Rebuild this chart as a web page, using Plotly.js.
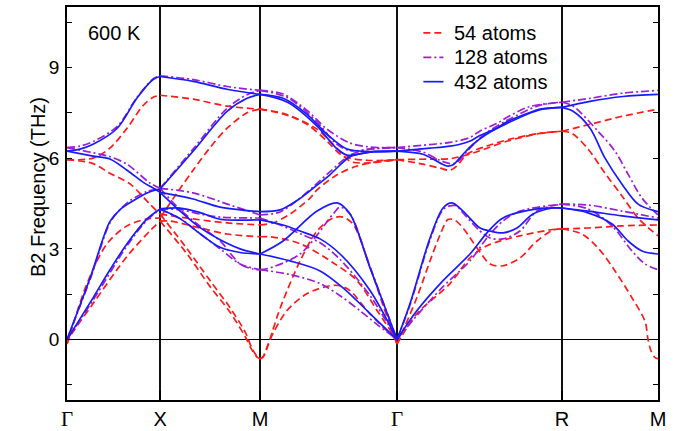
<!DOCTYPE html>
<html><head><meta charset="utf-8">
<script src="https://cdn.plot.ly/plotly-3.0.1.min.js"></script>
<style>html,body{margin:0;padding:0;background:#fff}#plot{width:685px;height:431px}</style>
</head><body><div id="plot"></div>
<script>
// High-symmetry points along the path (path coordinate) and their labels
const SYM_K = [0, 0.484, 1.004, 1.716, 2.574, 3.073];
const SYM_LABELS = ['Γ', 'X', 'M', 'Γ', 'R', 'M'];
const SERIES_NAMES = ['54 atoms', '128 atoms', '432 atoms'];
const Y_TICKS = [-1.5, 0, 1.5, 3, 4.5, 6, 7.5, 9, 10.5];
const Y_TICK_TEXT = ['', '0', '', '3', '', '6', '', '9', ''];

// Each band in a segment: [fraction along segment, frequency THz]
// ---- 54 atoms ----
const red_GX = [
  [[0,5.95],[0.28,6.0],[0.46,6.33],[0.645,6.99],[0.82,7.75],[0.93,8.02],[1,8.08]],
  [[0,5.95],[0.28,5.82],[0.46,5.5],[0.68,5.14],[0.89,4.48],[1,4.15]],
  [[0,-0.15],[0.03,0.15],[0.215,1.85],[0.43,3.17],[0.645,3.76],[0.86,3.99],[1,4.02]],
  [[0,-0.15],[0.03,0.08],[0.28,1.19],[0.645,2.75],[0.89,3.59],[1,3.92]]
];
const red_XM = [
  [[0,8.08],[0.33,7.95],[0.67,7.72],[1,7.62]],
  [[0,4.02],[0.17,4.85],[0.33,5.6],[0.5,6.35],[0.67,6.99],[0.87,7.5],[1,7.62]],
  [[0,4.15],[0.33,3.99],[0.67,3.86],[1,3.79]],
  [[0,3.92],[0.1,3.92],[0.4,3.69],[0.67,3.49],[1,3.4]],
  [[0,3.92],[0.27,2.83],[0.5,1.75],[0.7,0.9],[0.85,0.1],[0.92,-0.35],[0.97,-0.58],[1,-0.63]],
  [[0,4.15],[0.27,3.0],[0.5,1.95],[0.7,1.05],[0.85,0.25],[0.92,-0.3],[0.97,-0.56],[1,-0.63]]
];
const red_MG = [
  [[0,7.62],[0.168,7.48],[0.343,7.12],[0.489,6.56],[0.606,6.07],[0.781,5.93],[1,5.95]],
  [[0,7.62],[0.219,7.39],[0.416,6.96],[0.533,6.46],[0.657,5.9],[0.781,5.84],[1,5.95]],
  [[0,3.79],[0.095,3.86],[0.219,4.15],[0.365,4.68],[0.416,4.95],[0.562,5.45],[0.708,5.74],[0.85,5.88],[1,5.95]],
  [[0,3.4],[0.073,3.4],[0.292,3.17],[0.533,2.54],[0.708,1.95],[0.854,0.96],[0.975,0.12],[1,-0.15]],
  [[0,-0.63],[0.022,-0.58],[0.05,-0.3],[0.085,0.2],[0.124,0.75],[0.168,1.29],[0.292,2.6],[0.416,3.59],[0.533,4.02],[0.606,4.05],[0.679,3.82],[0.803,2.4],[0.9,1.1],[0.975,0.15],[1,-0.15]],
  [[0,-0.63],[0.022,-0.56],[0.055,-0.2],[0.1,0.25],[0.197,0.96],[0.343,1.52],[0.511,1.78],[0.584,1.78],[0.657,1.62],[0.781,0.96],[0.9,0.4],[0.975,0.08],[1,-0.15]]
];
const red_GR = [
  [[0,5.95],[0.2,5.97],[0.321,5.98],[0.461,6.17],[0.667,6.56],[0.867,6.82],[1,6.89]],
  [[0,5.95],[0.158,5.8],[0.261,5.67],[0.321,5.6],[0.364,5.75],[0.424,6.13],[0.545,6.4],[0.7,6.65],[0.867,6.82],[1,6.89]],
  [[0,-0.15],[0.025,0.15],[0.121,1.4],[0.2,2.6],[0.26,3.45],[0.309,3.97],[0.35,3.95],[0.4,3.69],[0.485,3.03],[0.564,2.5],[0.642,2.44],[0.745,2.7],[0.848,3.26],[0.945,3.62],[1,3.66]],
  [[0,-0.15],[0.025,0.08],[0.121,0.86],[0.321,1.85],[0.442,2.7],[0.545,3.1],[0.745,3.43],[0.945,3.64],[1,3.66]]
];
const red_RM = [
  [[0,6.89],[0.292,7.12],[0.635,7.39],[1,7.62]],
  [[0,6.89],[0.104,6.82],[0.271,6.3],[0.448,5.5],[0.625,4.75],[0.792,4.02],[1,3.43]],
  [[0,3.66],[0.271,3.69],[0.625,3.76],[1,3.79]],
  [[0,3.66],[0.208,3.49],[0.375,3.03],[0.552,2.27],[0.729,1.38],[0.865,0.6],[0.896,0.0],[0.93,-0.4],[0.97,-0.6],[1,-0.63]]
];
// ---- 128 atoms ----
const purple_GX = [
  [[0,6.35],[0.14,6.4],[0.28,6.55],[0.54,7.05],[0.75,8.0],[0.925,8.62],[1,8.72]],
  [[0,6.35],[0.28,6.18],[0.46,6.05],[0.645,5.8],[0.89,5.18],[1,5.0]],
  [[0,0],[0.25,2.0],[0.46,3.85],[0.57,4.3],[0.68,4.6],[0.86,4.9],[1,5.0]],
  [[0,0],[0.28,1.3],[0.645,3.1],[0.86,3.95],[1,4.3]]
];
const purple_XM = [
  [[0,8.72],[0.33,8.6],[0.67,8.37],[1,8.24]],
  [[0,5.0],[0.33,6.3],[0.67,7.65],[0.87,8.1],[1,8.24]],
  [[0,5.0],[0.33,4.85],[0.7,4.45],[1,4.12]],
  [[0,4.3],[0.2,4.3],[0.4,4.15],[0.6,4.05],[1,4.02]],
  [[0,5.0],[0.2,4.3],[0.4,3.75],[0.6,3.26],[0.8,2.5],[0.93,2.33],[1,2.31]],
  [[0,4.3],[0.2,4.0],[0.4,3.5],[0.6,3.0],[0.8,2.5],[1,2.31]]
];
const purple_MG = [
  [[0,8.24],[0.168,8.12],[0.343,7.58],[0.489,6.96],[0.657,6.5],[0.8,6.37],[1,6.35]],
  [[0,8.24],[0.2,8.0],[0.416,7.2],[0.55,6.5],[0.65,6.25],[0.8,6.3],[1,6.35]],
  [[0,4.12],[0.146,4.22],[0.27,4.6],[0.4,5.1],[0.51,5.55],[0.657,6.1],[0.8,6.3],[1,6.35]],
  [[0,4.02],[0.168,3.75],[0.292,3.5],[0.438,3.2],[0.584,2.65],[0.803,1.45],[1,0]],
  [[0,2.31],[0.05,2.34],[0.292,2.83],[0.533,4.15],[0.584,4.38],[0.657,4.15],[0.803,2.4],[1,0]],
  [[0,2.31],[0.219,2.15],[0.438,1.85],[0.584,1.45],[0.73,0.95],[0.854,0.5],[1,0]]
];
const purple_GR = [
  [[0,6.35],[0.2,6.45],[0.321,6.52],[0.44,6.68],[0.503,6.9],[0.606,7.15],[0.667,7.35],[0.8,7.7],[1,7.85]],
  [[0,6.35],[0.158,6.2],[0.25,5.95],[0.321,5.82],[0.36,5.85],[0.42,6.2],[0.48,6.55],[0.545,6.85],[0.667,7.25],[0.867,7.75],[1,7.85]],
  [[0,0],[0.079,1.15],[0.2,3.3],[0.279,4.3],[0.321,4.42],[0.36,4.42],[0.4,4.19],[0.503,3.59],[0.564,3.36],[0.642,3.33],[0.745,3.59],[0.848,4.25],[1,4.48]],
  [[0,0],[0.121,0.8],[0.279,1.75],[0.442,2.6],[0.545,3.36],[0.642,3.92],[0.745,4.25],[1,4.48]]
];
const purple_RM = [
  [[0,7.85],[0.292,7.98],[0.635,8.15],[1,8.24]],
  [[0,7.85],[0.115,7.72],[0.375,6.89],[0.552,6.23],[0.688,5.47],[0.833,4.68],[1,4.12]],
  [[0,4.48],[0.271,4.45],[0.625,4.25],[1,4.02]],
  [[0,4.48],[0.271,4.32],[0.521,3.76],[0.729,2.93],[0.865,2.5],[1,2.31]]
];
// ---- 432 atoms ----
const blue_GX = [
  [[0,6.23],[0.14,6.3],[0.28,6.46],[0.54,6.99],[0.75,7.98],[0.925,8.6],[1,8.70]],
  [[0,6.23],[0.28,6.07],[0.46,5.97],[0.645,5.6],[0.82,5.2],[0.925,5.01],[1,4.87]],
  [[0,0],[0.25,2.05],[0.46,3.9],[0.57,4.3],[0.68,4.53],[0.86,4.85],[1,4.98]],
  [[0,0],[0.28,1.38],[0.46,2.3],[0.645,3.17],[0.86,3.99],[1,4.32]]
];
const blue_XM = [
  [[0,8.70],[0.33,8.54],[0.67,8.28],[1,8.11]],
  [[0,4.98],[0.33,6.23],[0.67,7.55],[0.87,7.98],[1,8.11]],
  [[0,4.87],[0.33,4.65],[0.6,4.38],[1,4.23]],
  [[0,4.32],[0.2,4.35],[0.4,4.2],[0.6,3.98],[0.8,3.95],[1,3.96]],
  [[0,4.87],[0.2,4.25],[0.4,3.7],[0.6,3.3],[0.8,3.0],[1,2.83]],
  [[0,4.32],[0.2,4.0],[0.4,3.5],[0.6,3.05],[0.8,2.88],[1,2.83]]
];
const blue_MG = [
  [[0,8.11],[0.168,7.98],[0.343,7.45],[0.489,6.79],[0.635,6.3],[0.8,6.22],[1,6.23]],
  [[0,8.11],[0.2,7.85],[0.416,7.06],[0.55,6.36],[0.635,6.1],[0.803,6.2],[1,6.23]],
  [[0,4.23],[0.146,4.29],[0.27,4.6],[0.4,5.05],[0.51,5.45],[0.657,6.05],[0.8,6.2],[1,6.23]],
  [[0,3.96],[0.168,3.79],[0.292,3.59],[0.438,3.33],[0.584,2.83],[0.803,1.62],[1,0]],
  [[0,2.83],[0.168,3.26],[0.416,4.25],[0.562,4.52],[0.657,4.15],[0.803,2.37],[1,0]],
  [[0,2.83],[0.219,2.6],[0.438,2.27],[0.606,1.71],[0.803,0.86],[1,0]]
];
const blue_GR = [
  [[0,6.23],[0.2,6.33],[0.321,6.4],[0.382,6.46],[0.44,6.56],[0.503,6.75],[0.606,7.0],[0.667,7.2],[0.8,7.5],[0.867,7.62],[1,7.68]],
  [[0,6.23],[0.158,6.13],[0.218,5.97],[0.303,5.74],[0.339,5.78],[0.4,6.13],[0.461,6.46],[0.545,6.8],[0.667,7.15],[0.867,7.6],[1,7.68]],
  [[0,0],[0.079,1.19],[0.2,3.36],[0.279,4.35],[0.333,4.52],[0.4,4.25],[0.503,3.69],[0.564,3.59],[0.642,3.53],[0.727,3.69],[0.824,4.15],[0.945,4.35],[1,4.35]],
  [[0,0],[0.121,0.96],[0.279,1.95],[0.442,2.83],[0.545,3.53],[0.642,4.02],[0.848,4.32],[1,4.35]]
];
const blue_RM = [
  [[0,7.68],[0.292,7.88],[0.635,8.04],[1,8.11]],
  [[0,7.68],[0.115,7.55],[0.292,6.99],[0.448,6.0],[0.625,5.14],[0.792,4.48],[1,4.23]],
  [[0,4.35],[0.271,4.25],[0.625,4.09],[1,3.96]],
  [[0,4.35],[0.271,4.19],[0.521,3.82],[0.688,3.26],[0.833,2.93],[1,2.83]]
];

function buildXY(segments) {
  const xs = [], ys = [];
  segments.forEach((seg, i) => {
    const k0 = SYM_K[i], k1 = SYM_K[i + 1];
    seg.forEach(band => {
      band.forEach(([t, f]) => { xs.push(k0 + t * (k1 - k0)); ys.push(f); });
      xs.push(null); ys.push(null);
    });
  });
  return {xs, ys};
}

const seriesData = [
  [red_GX, red_XM, red_MG, red_GR, red_RM],
  [purple_GX, purple_XM, purple_MG, purple_GR, purple_RM],
  [blue_GX, blue_XM, blue_MG, blue_GR, blue_RM]
];
const styles = [
  {color: '#ff1a1a', dash: '7px,4px', width: 1.7},
  {color: '#9b1fd6', dash: '8px,3px,2px,3px', width: 1.7},
  {color: '#1a1aff', dash: 'solid', width: 1.7}
];

const traces = seriesData.map((segs, i) => {
  const d = buildXY(segs);
  return {
    x: d.xs, y: d.ys, type: 'scatter', mode: 'lines', name: SERIES_NAMES[i],
    connectgaps: false, showlegend: false,
    line: {color: styles[i].color, dash: styles[i].dash, width: styles[i].width, shape: 'spline', smoothing: 0.9}
  };
});

const FONT = 'Liberation Sans, Arial, Helvetica, sans-serif';
const tickText = SYM_LABELS.map(l => l === 'Γ' ? '<span style="font-family:Liberation Serif, Times New Roman, serif;font-size:21px">Γ</span>' : l);

// Legend (key) drawn in paper coordinates, inside the top-right of the frame
const LEG_X0 = 0.603, LEG_X1 = 0.637, LEG_TX = 0.652;
const LEG_Y = [0.934, 0.872, 0.81];
const legendShapes = SERIES_NAMES.map((n, i) => ({
  type: 'line', xref: 'paper', yref: 'paper', x0: LEG_X0, x1: LEG_X1, y0: LEG_Y[i], y1: LEG_Y[i],
  line: {color: styles[i].color, dash: styles[i].dash, width: styles[i].width}
}));
const legendText = SERIES_NAMES.map((n, i) => ({
  text: n, xref: 'paper', yref: 'paper', x: LEG_TX, y: LEG_Y[i], xanchor: 'left', yanchor: 'middle',
  showarrow: false, font: {family: FONT, size: 20, color: '#000'}
}));

const layout = {
  width: 685, height: 431,
  margin: {l: 67, r: 27, t: 7, b: 31, pad: 0},
  paper_bgcolor: '#fff', plot_bgcolor: '#fff',
  font: {family: FONT, size: 19, color: '#000'},
  showlegend: false,
  xaxis: {
    range: [SYM_K[0], SYM_K[SYM_K.length - 1]],
    tickmode: 'array', tickvals: SYM_K, ticktext: tickText,
    showgrid: true, gridcolor: '#111', gridwidth: 1.3,
    zeroline: false, showline: true, linecolor: '#000', linewidth: 1.8, mirror: true,
    ticks: 'inside', ticklen: 9, tickwidth: 1.8, tickcolor: '#000',
    tickfont: {family: FONT, size: 20, color: '#000'}
  },
  yaxis: {
    range: [-2, 11],
    tickmode: 'array', tickvals: Y_TICKS, ticktext: Y_TICK_TEXT,
    showgrid: false, zeroline: true, zerolinecolor: '#000', zerolinewidth: 1.2,
    showline: true, linecolor: '#000', linewidth: 1.8, mirror: 'ticks',
    ticks: 'inside', ticklen: 5, tickwidth: 1.2, tickcolor: '#000',
    tickfont: {family: FONT, size: 19, color: '#000'}, ticklabelstandoff: 2
  },
  shapes: legendShapes,
  annotations: [
    {text: '600 K', xref: 'paper', yref: 'paper', x: 0.032, y: 0.934, xanchor: 'left', yanchor: 'middle',
     showarrow: false, font: {family: FONT, size: 20, color: '#000'}},
    {text: 'B2 Frequency (THz)', xref: 'paper', yref: 'paper', x: -0.049, y: 0.542, xanchor: 'center', yanchor: 'middle',
     textangle: -90, showarrow: false, font: {family: FONT, size: 20, color: '#000'}}
  ].concat(legendText)
};

Plotly.newPlot('plot', traces, layout, {staticPlot: true, displayModeBar: false});
</script></body></html>
